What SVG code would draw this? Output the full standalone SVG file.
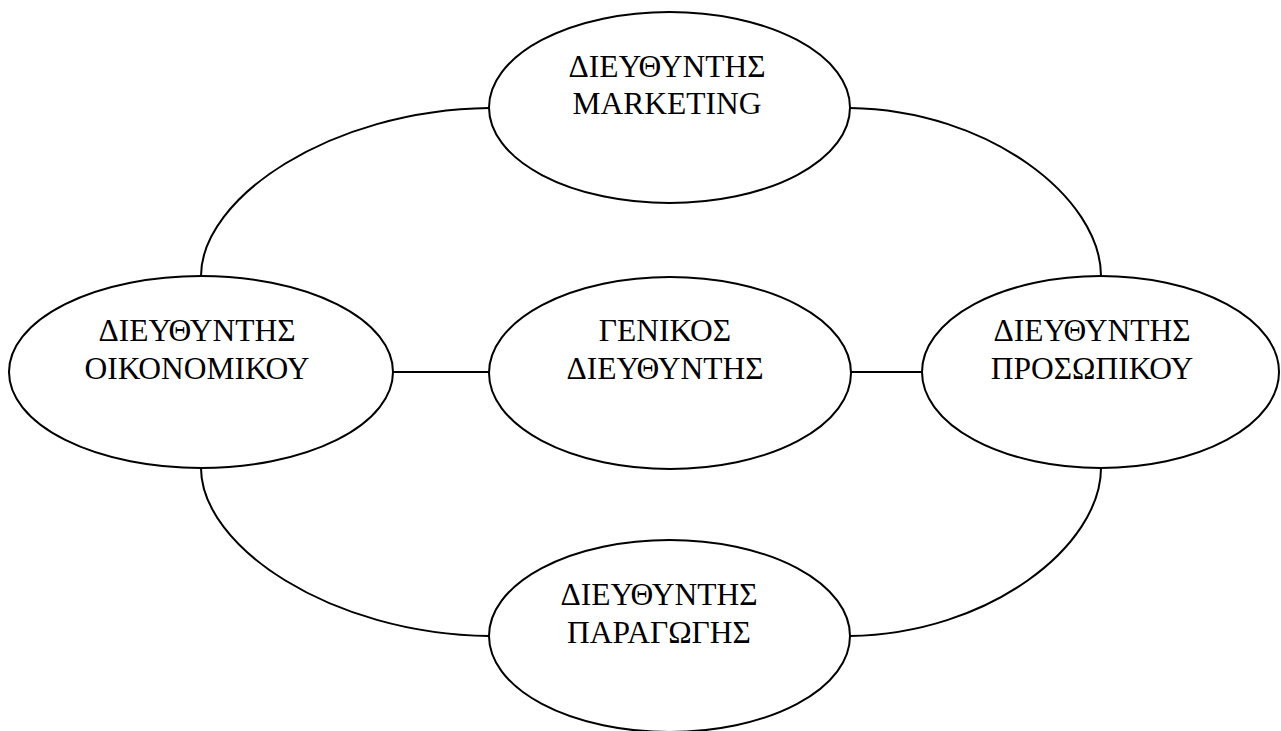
<svg xmlns="http://www.w3.org/2000/svg" width="1281" height="731" viewBox="0 0 1281 731">
<style>
.n ellipse{fill:#fff;stroke:#000;stroke-width:2}
.c path{fill:none;stroke:#000;stroke-width:2}
text{font-family:"Liberation Serif","Times New Roman",serif;font-size:31.5px;fill:#000;text-anchor:middle}
</style>
<rect width="1281" height="731" fill="#fff"/>
<g id="connectors" class="c">
<path d="M201,276 C201,198 330,110 489,108"/>
<path d="M850,108 C989,110 1101,198 1101,276"/>
<path d="M201,468 C201,546 330,634 489,636"/>
<path d="M850,636 C989,634 1101,546 1101,468"/>
<path d="M393,372 H489"/>
<path d="M851,372 H922"/>
</g>
<g id="marketing" class="n">
<ellipse cx="669.5" cy="107.5" rx="180.5" ry="95.5"/>
<text x="667" y="77">ΔΙΕΥΘΥΝΤΗΣ</text>
<text x="667" y="114">MARKETING</text>
</g>
<g id="general" class="n">
<ellipse cx="670" cy="373" rx="181" ry="96"/>
<text x="665" y="341">ΓΕΝΙΚΟΣ</text>
<text x="665" y="379">ΔΙΕΥΘΥΝΤΗΣ</text>
</g>
<g id="finance" class="n">
<ellipse cx="201" cy="372" rx="192" ry="96"/>
<text x="197" y="341">ΔΙΕΥΘΥΝΤΗΣ</text>
<text x="197" y="379">ΟΙΚΟΝΟΜΙΚΟΥ</text>
</g>
<g id="personnel" class="n">
<ellipse cx="1100.5" cy="372" rx="178.5" ry="96"/>
<text x="1092" y="341">ΔΙΕΥΘΥΝΤΗΣ</text>
<text x="1092" y="379">ΠΡΟΣΩΠΙΚΟΥ</text>
</g>
<g id="production" class="n">
<ellipse cx="669.5" cy="636" rx="180.5" ry="96"/>
<text x="659" y="605">ΔΙΕΥΘΥΝΤΗΣ</text>
<text x="659" y="643">ΠΑΡΑΓΩΓΗΣ</text>
</g>
</svg>
